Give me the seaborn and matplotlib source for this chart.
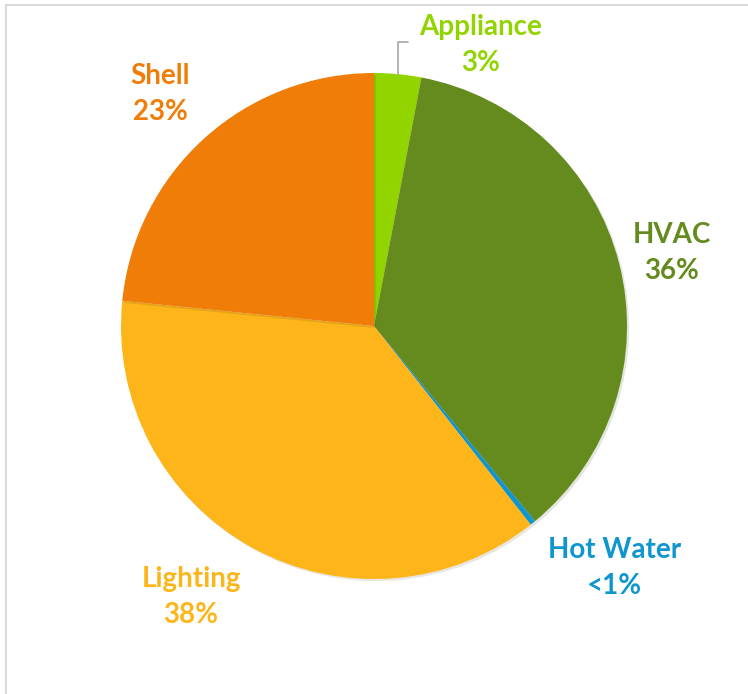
import numpy as np
import matplotlib
matplotlib.use('Agg')
import matplotlib.pyplot as plt
import matplotlib.patheffects as pe
from matplotlib.patches import Rectangle
import seaborn as sns

# data (clockwise from 12 o'clock)
categories = ['Appliance', 'HVAC', 'Hot Water', 'Lighting', 'Shell']
shares = [3.0, 36.0, 0.35, 37.2, 23.4]
pct_labels = ['3%', '36%', '<1%', '38%', '23%']
colors = ['#92d400', '#658b1e', '#0f96cf', '#fdb51a', '#ef7d08']

# label anchors (data units, pie radius = 1) - placed like the excel chart
label_pos = [(0.423, 1.111), (1.178, 0.289), (0.949, -0.957),
             (-0.723, -1.071), (-0.846, 0.917)]

sns.set_theme(style='white')
plt.rcParams['font.family'] = ['Lato', 'DejaVu Sans']

fig = plt.figure(figsize=(7.48, 6.94), dpi=100)
ax = fig.add_axes([0, 0, 1, 1])

wedges, _ = ax.pie(shares, colors=colors, startangle=90, counterclock=False,
                   radius=1, wedgeprops={'linewidth': 0})
for w in wedges:
    w.set_path_effects([pe.SimplePatchShadow(offset=(1.5, -1.5), alpha=0.12),
                        pe.Normal()])

# px scale: centre at (374, 326), radius 253 px
s = 253.0
ax.set_xlim(-374 / s, (748 - 374) / s)
ax.set_ylim(-(694 - 326) / s, 326 / s)
ax.set_aspect('equal')
ax.axis('off')

for i, cat in enumerate(categories):
    x, y = label_pos[i]
    ax.text(x, y, cat + '\n' + pct_labels[i], color=colors[i], fontsize=20,
            fontweight='bold', ha='center', va='center', linespacing=1.45)

# leader line for the small appliance slice
w = wedges[0]
mid = np.deg2rad((w.theta1 + w.theta2) / 2)
x0, y0 = np.cos(mid), np.sin(mid)
ly = label_pos[0][1] + 0.012
ax.plot([x0, x0, x0 + 0.04], [y0, ly, ly], color='#a6a6a6', lw=1.2)

# light frame of the chart area
fig.patches.append(Rectangle((6 / 748, -0.1), 1.2, 1 - 5 / 694 + 0.1,
                             transform=fig.transFigure, fill=False,
                             edgecolor='#d9d9d9', lw=1.5))

plt.savefig('out.png', dpi=100)
